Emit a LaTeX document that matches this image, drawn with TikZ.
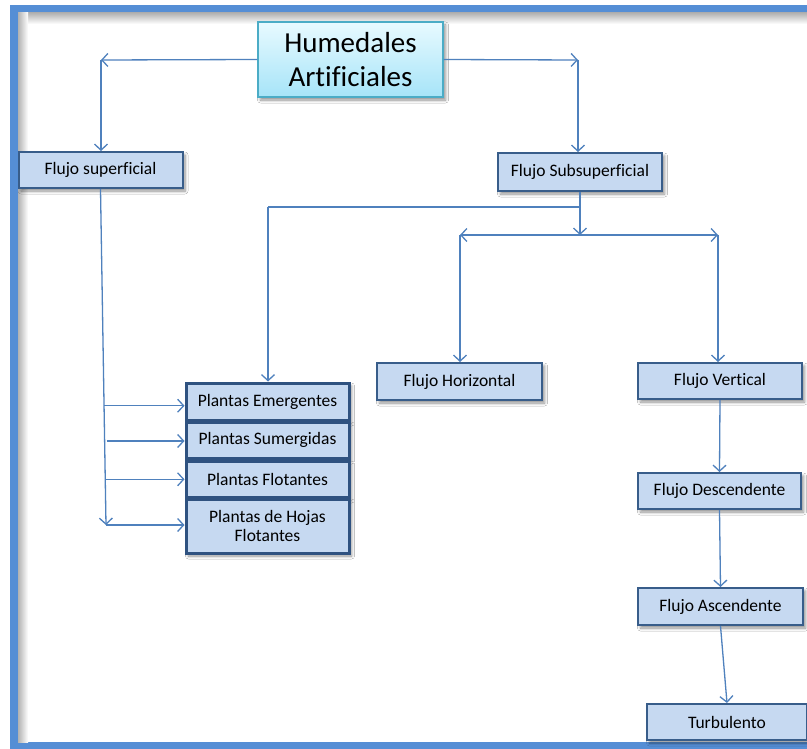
\documentclass[tikz,border=0pt]{standalone}
\usepackage{fontspec}
\setmainfont{Carlito}[Ligatures={NoCommon}]
\usetikzlibrary{arrows.meta,shadows.blur}

\definecolor{framebl}{HTML}{558ED5}
\definecolor{linkbl}{HTML}{4F81BD}
\definecolor{boxfill}{HTML}{C6D9F1}
\definecolor{boxedge}{HTML}{385D8A}
\definecolor{plantedge}{HTML}{2F5280}
\definecolor{titletop}{HTML}{E8FAFF}
\definecolor{titlebot}{HTML}{A6E4F8}
\definecolor{titleedge}{HTML}{4BACC6}

\tikzset{
  x=1pt, y=-1pt,
  softshadow/.style={blur shadow={shadow xshift=2.5pt, shadow yshift=-3pt,
      shadow blur steps=6, shadow blur radius=3pt, shadow opacity=45}},
  flowbox/.style={draw=boxedge, line width=2pt, fill=boxfill, softshadow,
      inner sep=0pt, align=center, font=\fontsize{17.5}{19}\selectfont},
  plantbox/.style={flowbox, draw=plantedge, line width=3pt, minimum width=163pt},
  titlebox/.style={draw=titleedge, line width=1.2pt, top color=titletop,
      bottom color=titlebot, softshadow, inner sep=0pt, align=center,
      font=\fontsize{29}{34}\selectfont},
  link/.style={draw=linkbl, line width=1.3pt},
  arr/.style={link, -{Straight Barb[length=6pt,width=13pt,line width=1.3pt]}},
}

\begin{document}
\begin{tikzpicture}
\useasboundingbox (0,0) rectangle (807,749);

% page frame with its inner shade
\fill[framebl] (10,5) rectangle (807,749);
\fill[white] (18,13) rectangle (807,742);
\shade[top color=black!30, bottom color=white] (18,13) rectangle (807,24);
\shade[left color=black!30, right color=white] (18,13) rectangle (28,742);

% boxes
\node[titlebox, minimum width=185pt, minimum height=75pt] (tit) at (350.5,59.5)
  {Humedales\\Artificiales};
\node[flowbox, minimum width=164pt, minimum height=36pt] (fs) at (100.5,170) {Flujo superficial};
\node[flowbox, minimum width=164pt, minimum height=38pt] (fsub) at (580,172) {Flujo Subsuperficial};
\node[flowbox, minimum width=165pt, minimum height=37pt] (fh) at (459.5,381.5) {Flujo Horizontal};
\node[flowbox, minimum width=164pt, minimum height=36pt] (fv) at (720,381) {Flujo Vertical};
\node[flowbox, minimum width=163pt, minimum height=36pt] (fd) at (719.5,491) {Flujo Descendente};
\node[flowbox, minimum width=165pt, minimum height=37pt] (fa) at (720.5,606.5) {Flujo Ascendente};
\node[flowbox, minimum width=160pt, minimum height=36pt] (tu) at (727,722) {Turbulento};

\node[plantbox, minimum height=37pt] (pe) at (267.5,401.5) {Plantas Emergentes};
\node[plantbox, minimum height=36pt] (ps) at (267.5,440) {Plantas Sumergidas};
\node[plantbox, minimum height=36pt] (pf) at (267.5,479) {Plantas Flotantes};
\node[plantbox, minimum height=54pt] (ph) at (267.5,526) {Plantas de Hojas\\Flotantes};

% branches from the title
\coordinate (tl) at (101,60);
\coordinate (tr) at (578,60);
\draw[arr] (tit.west) -- (tl);
\draw[arr] (tl) -- (tl |- fs.north);
\draw[arr] (tit.east) -- (tr);
\draw[arr] (tr) -- (tr |- fsub.north);

% subsurface flow branches
\coordinate (sb) at (580,207);
\coordinate (hb) at (580,235);
\coordinate (hl) at (460,235);
\coordinate (hr) at (718,235);
\coordinate (pl) at (268,207);
\draw[arr] (fsub.south) -- (hb);
\draw[link] (sb) -- (pl);
\draw[arr] (pl) -- (pl |- pe.north);
\draw[arr] (hb) -- (hl);
\draw[arr] (hb) -- (hr);
\draw[arr] (hl) -- (hl |- fh.north);
\draw[arr] (hr) -- (hr |- fv.north);

% vertical flow chain
\draw[arr] (fv.south) -- (fd.north);
\draw[arr] (fd.south) -- (fa.north);
\draw[arr] (fa.south) -- (tu.north);

% surface flow to the plant types
\coordinate (lb) at (106,525);
\draw[arr] (fs.south) -- (lb);
\path (fs.south) -- (lb)
  coordinate[pos=0.645] (b1)
  coordinate[pos=0.750] (b2)
  coordinate[pos=0.864] (b3);
\draw[arr] (b1) -- (b1 -| pe.west);
\draw[arr] ([xshift=2pt]b2) -- (b2 -| ps.west);
\draw[arr] (b3) -- (b3 -| pf.west);
\draw[arr] (lb) -- (lb -| ph.west);
\end{tikzpicture}
\end{document}
